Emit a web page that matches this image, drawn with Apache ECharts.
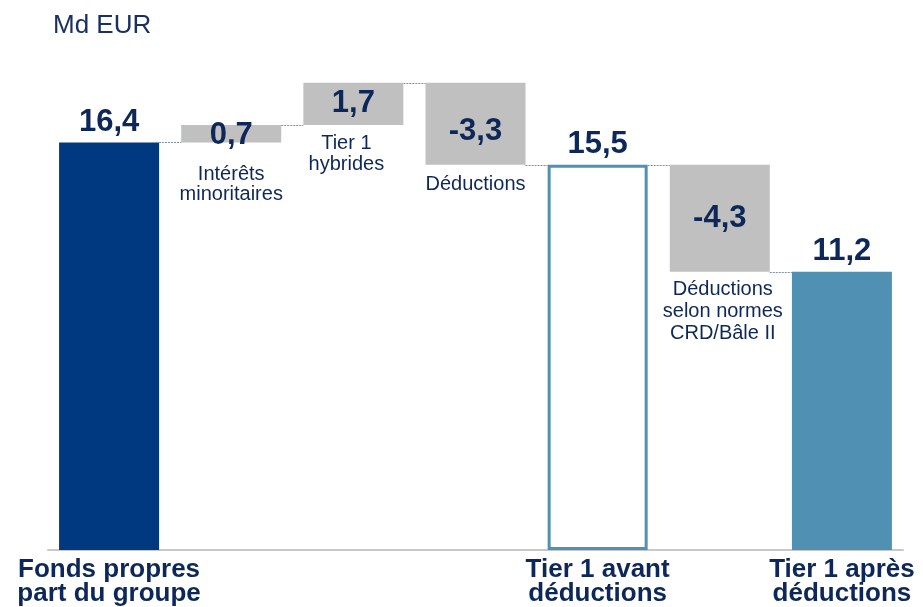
<!DOCTYPE html>
<html>
<head>
<meta charset="utf-8">
<script src="https://cdn.jsdelivr.net/npm/echarts@6/dist/echarts.min.js"></script>
<style>
  html, body { margin: 0; padding: 0; background: #fff; }
  #chart { width: 923px; height: 607px; }
</style>
</head>
<body>
<div id="chart"></div>
<script>
// categories: totals get an axis label, steps get a text under their bar
const categories = ['Fonds propres\npart du groupe', 'Intérêts\nminoritaires', 'Tier 1\nhybrides', 'Déductions', 'Tier 1 avant\ndéductions', 'Déductions\nselon normes\nCRD/Bâle II', 'Tier 1 après\ndéductions']
const kinds = ['total', 'step', 'step', 'step', 'total', 'step', 'total']
const values = [16.4, 0.7, 1.7, -3.3, 15.5, -4.3, 11.2]
const unit = 'Md EUR'

const navy = '#0d2858'
const colors = ['#00397f', '#c0c0c0', '#c0c0c0', '#c0c0c0', '#ffffff', '#c0c0c0', '#5091b3']
const barW = 100

// build waterfall: invisible base + visible part
var base = []
var shown = []
var levels = []
var running = 0
values.forEach(function(v, i) {
  if (kinds[i] === 'total') {
    running = v
    base.push(0)
    shown.push(v)
  } else {
    var next = running + v
    base.push(Math.min(running, next))
    shown.push(Math.abs(v))
    running = next
  }
  levels.push(running)
})

function fmt(v) {
  return v.toFixed(1).replace('.', ',')
}

// connector between bar i and bar i+1, at the level reached after i
var connectors = []
for (var i = 0; i < levels.length - 1; i++) {
  connectors.push([i, levels[i]])
}

const descOffset = { 1: [0, 22], 2: [-7, 8], 3: [0, 9], 5: [3, 7] }
const descLine = { 1: 20, 2: 21, 3: 21, 5: 22 }
const valueOffset = { 1: [0, 2], 3: [0, 8] }

const chart = echarts.init(document.getElementById('chart'))
chart.setOption({
  animation: false,
  backgroundColor: '#fff',
  title: {
    text: unit,
    left: 48,
    top: 8,
    textStyle: { fontFamily: 'Liberation Sans', fontWeight: 'normal', fontSize: 26, color: '#1a3060' }
  },
  grid: { left: 48, right: 20, top: 53, bottom: 55 },
  xAxis: {
    type: 'category',
    data: categories,
    axisTick: { show: false },
    axisLine: { lineStyle: { color: '#c8c8c8', width: 2 } },
    axisLabel: {
      interval: 0,
      margin: 8,
      color: navy,
      fontFamily: 'Liberation Sans',
      fontWeight: 'bold',
      fontSize: 26,
      lineHeight: 24,
      formatter: function(v, idx) {
        return kinds[idx] === 'total' ? v : ''
      }
    }
  },
  yAxis: {
    type: 'value',
    min: 0,
    max: 20,
    show: false
  },
  series: [
    {
      name: 'base',
      type: 'bar',
      stack: 'wf',
      z: 1,
      barWidth: barW,
      itemStyle: { color: 'transparent' },
      data: base.map(function(b, i) {
        return {
          value: b,
          label: {
            show: kinds[i] === 'step',
            position: 'insideTop',
            distance: 0,
            offset: descOffset[i] || [0, 0],
            formatter: categories[i],
            color: navy,
            fontFamily: 'Liberation Sans',
            fontSize: 20,
            lineHeight: descLine[i] || 21,
            align: 'center'
          }
        }
      })
    },
    {
      name: 'value',
      type: 'bar',
      stack: 'wf',
      z: 3,
      barWidth: barW,
      data: shown.map(function(s, i) {
        var total = kinds[i] === 'total'
        return {
          value: s,
          itemStyle: i === 4
            ? { color: '#fff', borderColor: '#5091b3', borderWidth: 3 }
            : { color: colors[i] },
          label: {
            show: true,
            position: total ? 'top' : 'inside',
            distance: 5,
            offset: valueOffset[i] || [0, 0],
            formatter: fmt(values[i]),
            color: navy,
            fontFamily: 'Liberation Sans',
            fontWeight: 'bold',
            fontSize: 31
          }
        }
      })
    },
    {
      name: 'connector',
      type: 'custom',
      z: 2,
      silent: true,
      data: connectors,
      renderItem: function(params, api) {
        var a = api.coord([api.value(0), api.value(1)])
        var b = api.coord([api.value(0) + 1, api.value(1)])
        var y = Math.round(a[1]) + 0.5
        return {
          type: 'line',
          shape: { x1: a[0] + barW / 2, y1: y, x2: b[0] - barW / 2, y2: y },
          style: { stroke: '#7f8fb0', lineWidth: 1, lineDash: [2, 1] }
        }
      }
    }
  ]
})
</script>
</body>
</html>
